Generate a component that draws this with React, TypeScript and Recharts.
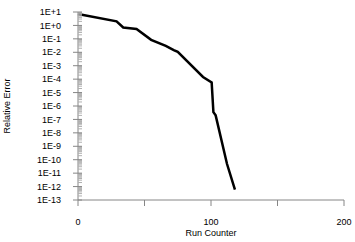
import React from 'react';
import { LineChart, Line, XAxis, YAxis } from 'recharts';

// run counter vs. relative error
const runs = [0, 29, 34, 44, 55, 66, 72, 75, 94, 100.5, 101.8, 103.5, 112, 118];
const errors = [7, 2, 0.7, 0.54, 0.085, 0.03, 0.0145, 0.0107, 1.45e-4, 5.6e-5, 3.5e-7, 2e-7, 5e-11, 6e-13];

const xTicks = [0, 50, 100, 150, 200];
const xLabels = ['0', '', '100', '', '200'];
const yMajor = [1e1, 1e0, 1e-1, 1e-2, 1e-3, 1e-4, 1e-5, 1e-6, 1e-7, 1e-8, 1e-9, 1e-10, 1e-11, 1e-12, 1e-13];

const data = runs.map((run, i) => ({ run, err: errors[i] }));

// log minor ticks 2..9 inside each decade
const yMinor: number[] = [];
yMajor.slice(1).forEach((p) => {
  for (let m = 2; m <= 9; m++) yMinor.push(p * m);
});
const yTicks = [...yMajor, ...yMinor].sort((a, b) => a - b);

const FONT = '"Liberation Sans", Arial, sans-serif';
const AXIS = '#868686';

const isMajor = (v: number) => yMajor.some((p) => Math.abs(Math.log10(v) - Math.log10(p)) < 1e-6);

const fmtExp = (v: number) => {
  const e = Math.round(Math.log10(v));
  return `1E${e >= 0 ? '+' : '-'}${Math.abs(e)}`;
};

const YTick = ({ x, y, payload }: any) => {
  const v = payload.value;
  if (isMajor(v)) {
    return (
      <g>
        <line x1={x - 5} x2={x + 4} y1={y} y2={y} stroke={AXIS} />
        <text x={x - 17} y={y + 3.2} textAnchor="end" fontSize={9} fontFamily={FONT} fill="#000">
          {fmtExp(v)}
        </text>
      </g>
    );
  }
  return <line x1={x} x2={x + 4} y1={y} y2={y} stroke="#b0b0b0" />;
};

const XTick = ({ x, y, payload }: any) => {
  const i = xTicks.indexOf(payload.value);
  return (
    <g>
      <line x1={x} x2={x} y1={y} y2={y + 6} stroke={AXIS} />
      <text x={x} y={y + 25} textAnchor="middle" fontSize={9} fontFamily={FONT} fill="#000">
        {xLabels[i]}
      </text>
    </g>
  );
};

export default function App() {
  return (
    <div style={{ position: 'absolute', left: 0, top: 0, background: '#fff' }}>
      <LineChart width={355} height={242} data={data} margin={{ top: 12, right: 11, left: 0, bottom: 0 }}>
        <XAxis
          dataKey="run"
          type="number"
          domain={[0, 200]}
          ticks={xTicks}
          interval={0}
          tickSize={0}
          tickMargin={0}
          tick={<XTick />}
          height={42}
          axisLine={{ stroke: AXIS }}
          label={{ value: 'Run Counter', position: 'insideBottom', offset: 6, fontSize: 9, fontFamily: FONT, fill: '#000' }}
        />
        <YAxis
          scale="log"
          domain={[1e-13, 10]}
          allowDataOverflow
          ticks={yTicks}
          interval={0}
          tickSize={0}
          tickMargin={0}
          tick={<YTick />}
          width={78}
          axisLine={{ stroke: AXIS }}
          label={{
            content: () => (
              <text
                x={10}
                y={106}
                transform="rotate(-90 10 106)"
                textAnchor="middle"
                fontSize={9}
                fontFamily={FONT}
                fill="#000"
              >
                Relative Error
              </text>
            ),
          }}
        />
        <Line
          type="linear"
          dataKey="err"
          stroke="#000"
          strokeWidth={2.5}
          dot={false}
          isAnimationActive={false}
        />
      </LineChart>
    </div>
  );
}
